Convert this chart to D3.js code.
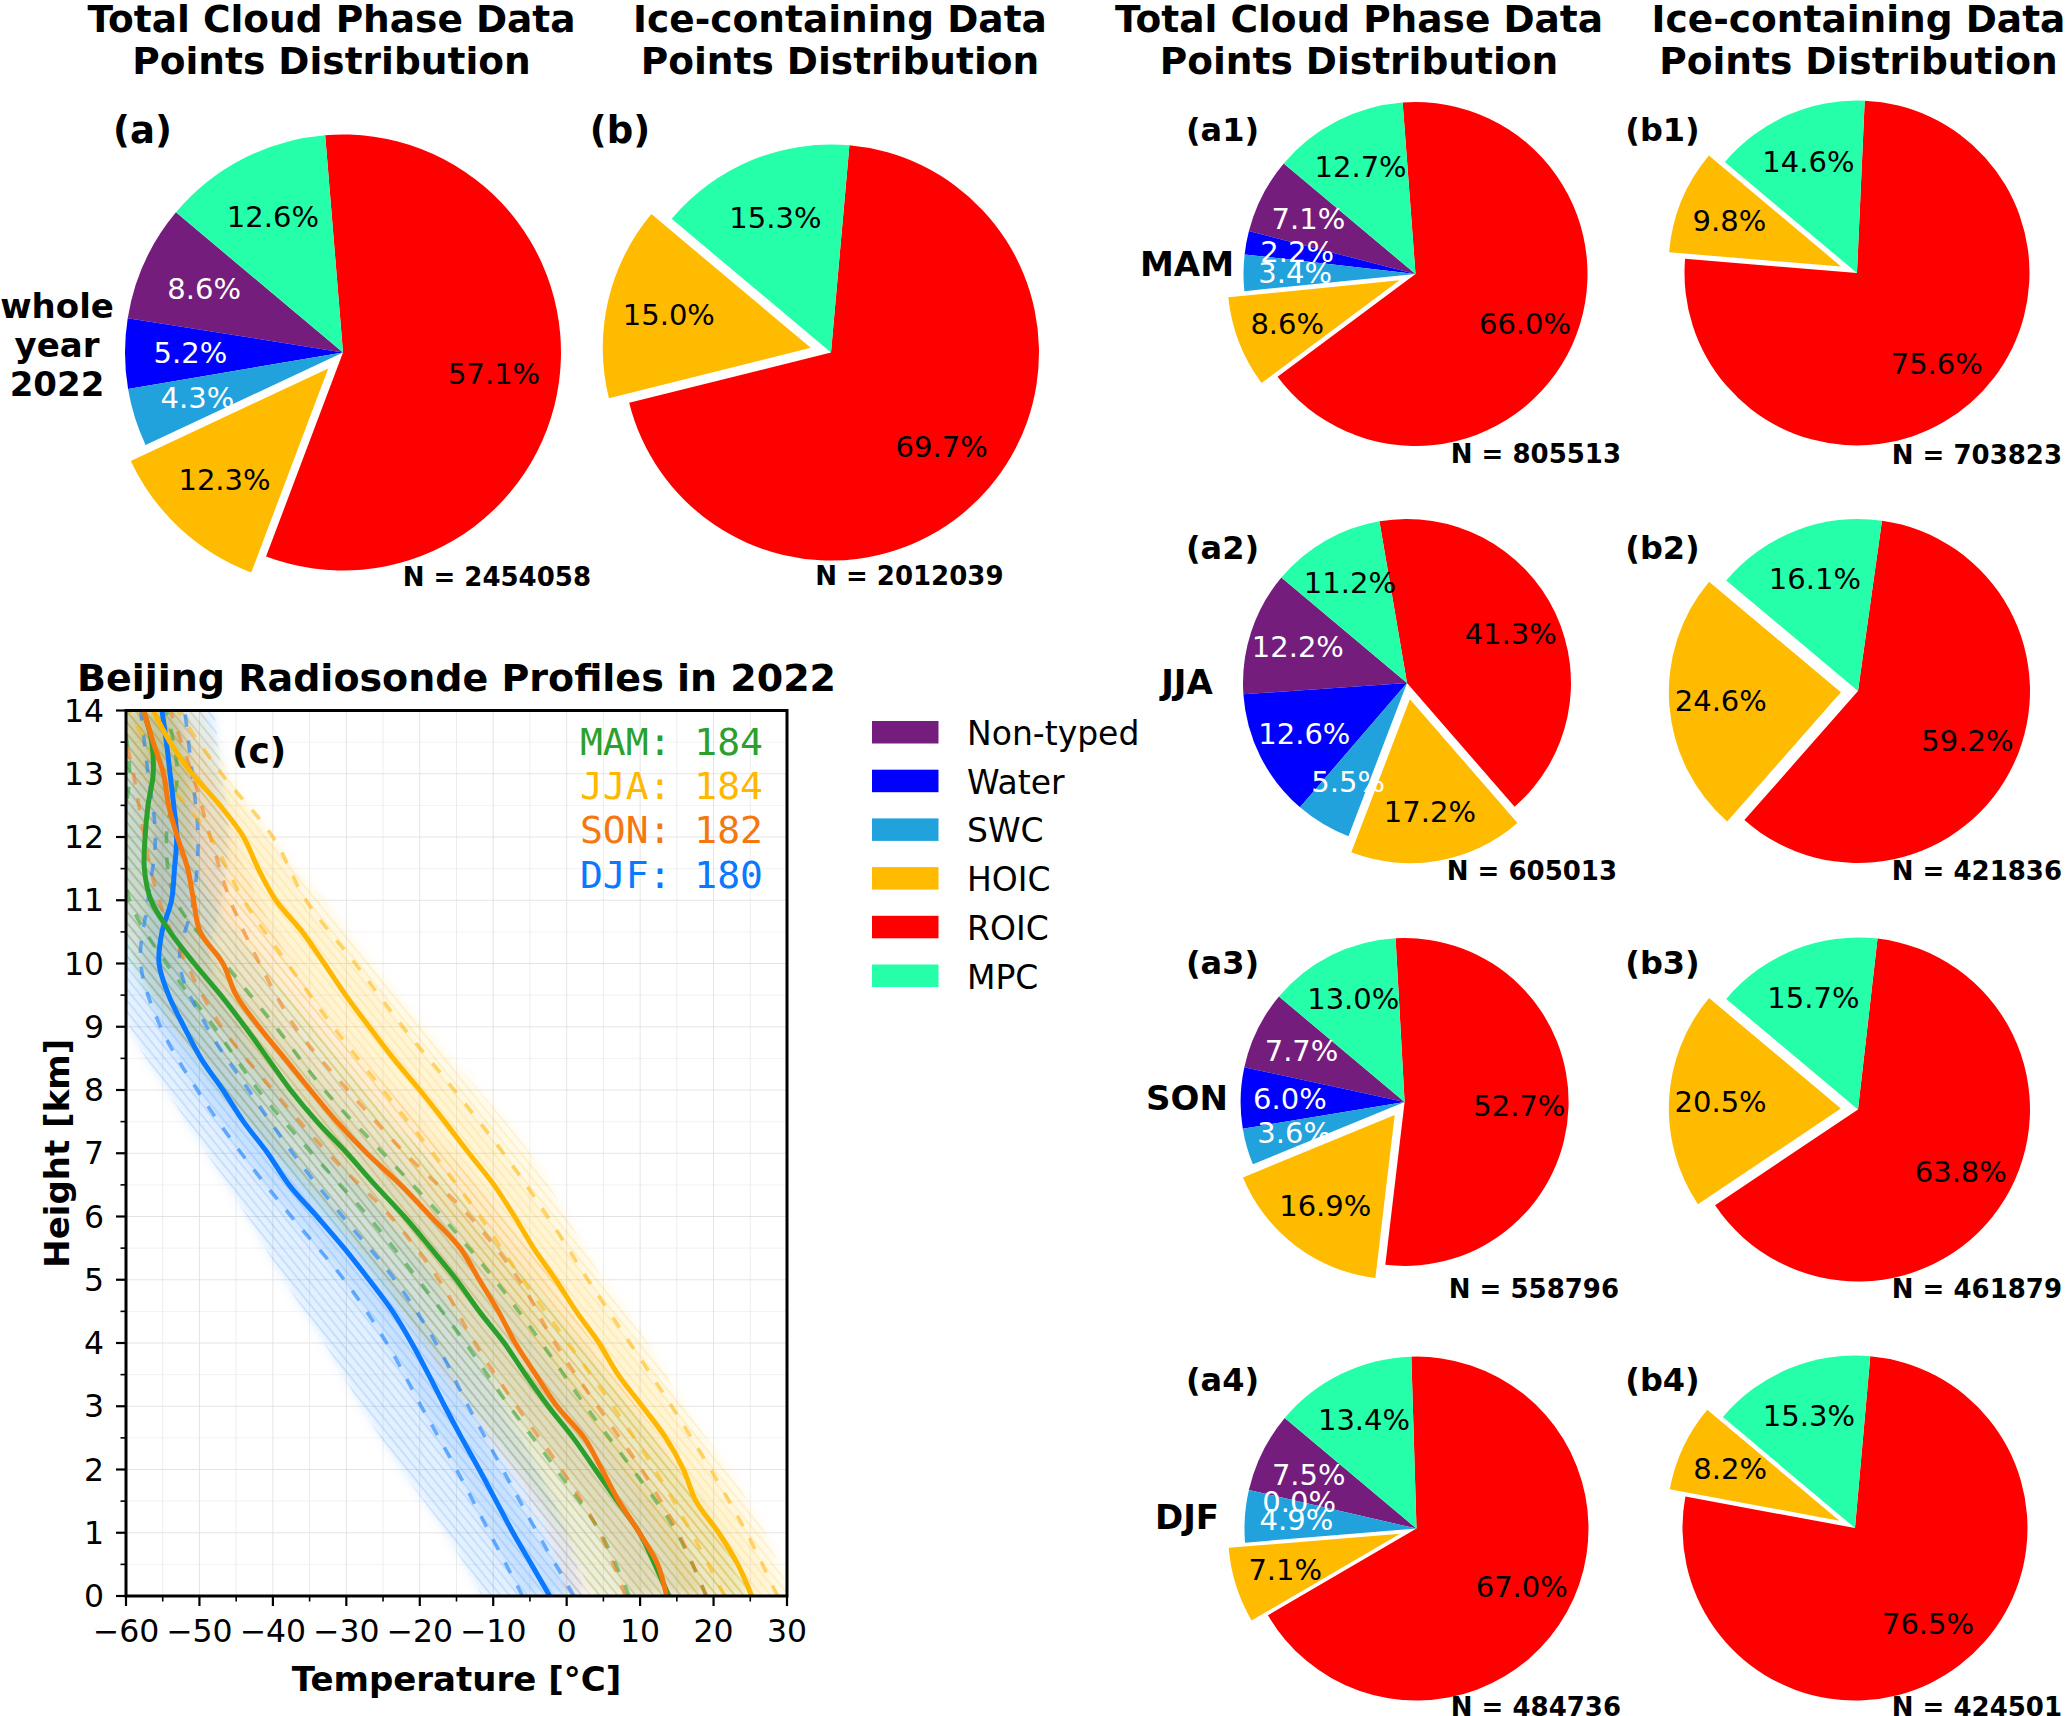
<!DOCTYPE html>
<html><head><meta charset="utf-8">
<script src="https://cdn.jsdelivr.net/npm/d3@7"></script>
<style>body{margin:0;background:#fff}svg{display:block}</style>
</head><body>
<svg id="chart" width="2067" height="1716"></svg>
<script>
// ================= DATA =================
const categories = ['Non-typed','Water','SWC','HOIC','ROIC','MPC'];
const iceCategories = ['HOIC','ROIC','MPC'];

const totalWhole = [8.6, 5.2, 4.3, 12.3, 57.1, 12.6];
const iceWhole   = [15.0, 69.7, 15.3];
const totalMAM = [7.1, 2.2, 3.4, 8.6, 66.0, 12.7];
const iceMAM   = [9.8, 75.6, 14.6];
const totalJJA = [12.2, 12.6, 5.5, 17.2, 41.3, 11.2];
const iceJJA   = [24.6, 59.2, 16.1];
const totalSON = [7.7, 6.0, 3.6, 16.9, 52.7, 13.0];
const iceSON   = [20.5, 63.8, 15.7];
const totalDJF = [7.5, 0.0, 4.9, 7.1, 67.0, 13.4];
const iceDJF   = [8.2, 76.5, 15.3];

const nTotal = [2454058, 805513, 605013, 558796, 484736];
const nIce   = [2012039, 703823, 421836, 461879, 424501];

const seasons = ['MAM','JJA','SON','DJF'];
const soundingCounts = [184, 184, 182, 180];

// heights (km) for mean profiles
const meanHeights = [0,0.5,1,1.5,2,2.5,3,3.5,4,4.5,5,5.5,6,6.5,7,7.5,8,8.5,9,9.5,10,10.5,11,11.5,12,12.5,13,13.5,14];
const meanMAM = [13.9,12.0,9.9,6.9,3.9,0.9,-2.5,-5.6,-8.5,-11.9,-15.0,-18.5,-22.1,-26.1,-29.9,-34.0,-37.6,-40.7,-43.8,-47.1,-50.7,-54.0,-56.6,-57.5,-57.4,-57.0,-56.3,-56.5,-57.6];
const meanJJA = [25.2,23.3,20.7,17.6,15.9,13.5,10.3,7.0,4.4,1.3,-1.5,-4.5,-7.1,-9.9,-13.3,-16.6,-20.0,-23.6,-26.9,-30.1,-33.0,-36.0,-39.6,-42.0,-44.0,-47.2,-51.0,-54.0,-56.3];
const meanSON = [13.6,12.4,9.9,7.1,4.8,2.4,-1.3,-4.2,-7.0,-9.3,-11.9,-14.5,-18.5,-22.6,-27.2,-31.3,-34.9,-38.4,-41.9,-45.0,-46.8,-49.9,-50.8,-51.6,-53.0,-54.2,-54.9,-56.3,-57.6];
const meanDJF = [-2.3,-4.8,-7.3,-9.6,-11.9,-14.3,-16.6,-18.8,-21.1,-23.7,-26.9,-30.3,-34.0,-37.8,-40.7,-44.0,-46.8,-49.8,-52.1,-54.2,-55.5,-55.1,-53.8,-53.4,-53.1,-53.5,-54.0,-54.5,-55.1];

// heights (km) for spread lines
const spreadHeights = [0,1,2,3,4,5,6,7,8,9,10,11,12,13,14];
const lowerMAM = [8.5,4.6,-1.4,-7.8,-13.8,-20.2,-27.0,-34.7,-42.0,-48.0,-54.5,-59.5,-60.5,-59.5,-60.5];
const upperMAM = [19.0,15.0,9.0,2.6,-3.4,-9.8,-17.0,-25.0,-33.0,-39.6,-46.5,-53.2,-54.5,-53.0,-54.5];
const lowerJJA = [21.5,17.0,12.0,6.3,0.2,-6.0,-11.8,-18.2,-25.0,-31.8,-38.0,-44.0,-48.5,-55.0,-59.5];
const upperJJA = [28.7,24.5,19.6,14.3,8.6,2.9,-2.6,-8.6,-15.3,-22.3,-28.8,-35.5,-40.0,-47.0,-53.0];
const lowerSON = [8.0,4.5,-0.7,-6.8,-12.5,-17.4,-24.0,-32.5,-40.0,-47.0,-51.8,-55.5,-57.5,-59.0,-61.0];
const upperSON = [19.0,15.2,10.2,4.2,-1.6,-6.5,-13.2,-22.0,-29.8,-37.0,-41.8,-45.8,-48.5,-51.0,-54.0];
const lowerDJF = [-6.0,-10.5,-15.0,-19.8,-24.5,-30.3,-37.5,-44.3,-50.3,-55.3,-58.0,-57.0,-56.0,-57.0,-58.0];
const upperDJF = [1.0,-4.0,-8.7,-13.4,-17.8,-23.4,-30.5,-37.3,-43.3,-49.0,-52.7,-50.8,-50.2,-51.0,-52.0];

// envelope of the individual soundings
const envLoMAM = [3.5,-0.5,-6.5,-13.0,-19.0,-25.5,-32.5,-40.0,-47.5,-53.5,-59.5,-61,-61,-61,-61];
const envHiMAM = [25.0,21.0,15.0,8.5,2.0,-5.0,-12.0,-19.5,-27.5,-34.5,-41.5,-48.0,-51.0,-51.5,-53.5];
const envLoJJA = [16.0,12.5,7.5,2.0,-4.0,-10.0,-16.0,-22.5,-29.5,-36.0,-42.0,-48.0,-53.0,-58.0,-61];
const envHiJJA = [30.5,27.0,22.0,16.0,11.0,5.0,0.0,-5.0,-12.0,-19.5,-26.5,-33.0,-40.5,-46.0,-49.5];
const envLoSON = [0.0,-2.5,-7.5,-13.5,-19.5,-25.0,-31.5,-39.5,-47.0,-53.5,-58.5,-61,-61,-61,-61];
const envHiSON = [24.0,20.5,15.5,9.5,3.5,-2.0,-8.5,-16.0,-24.0,-31.5,-37.5,-42.0,-45.5,-48.5,-52.0];
const envLoDJF = [-11.5,-16.5,-22.5,-28.0,-33.0,-38.5,-43.5,-49.0,-54.5,-59.5,-61,-61,-61,-61,-61];
const envHiDJF = [2.5,0.0,-4.0,-8.5,-13.0,-18.0,-24.5,-32.0,-38.5,-44.5,-48.5,-47.0,-46.0,-47.0,-48.0];

const xTickValues = [-60,-50,-40,-30,-20,-10,0,10,20,30];
const yTickValues = [0,1,2,3,4,5,6,7,8,9,10,11,12,13,14];

// ================= STYLE / LAYOUT =================
const FONT = "'DejaVu Sans', sans-serif";
const catColors = {'Non-typed':'#741d7c','Water':'#0000ff','SWC':'#21a2dd','HOIC':'#ffbb00','ROIC':'#ff0000','MPC':'#25ffaa'};
const whiteText = new Set(['Non-typed','Water','SWC']);
const seasonColors = {MAM:'#2ca02c', JJA:'#ffb700', SON:'#f5780f', DJF:'#0a78ff'};
const hazeOpacity = {MAM:[0.08,0.09], JJA:[0.09,0.09], SON:[0.07,0.08], DJF:[0.11,0.12]};

const svg = d3.select('#chart');
const defs = svg.append('defs');

// ---------- pies ----------
const pieLayout = [
  {vals: totalWhole, cats: categories,    n: nTotal[0], cx: 343,   cy: 352.5, r: 218,   lab:'(a)',  lx:142.5, ly:143, lsize:37, nx:591,  ny:586},
  {vals: iceWhole,   cats: iceCategories, n: nIce[0],   cx: 831,   cy: 352.5, r: 208,   lab:'(b)',  lx:620,   ly:143, lsize:37, nx:1003.5,ny:585},
  {vals: totalMAM,   cats: categories,    n: nTotal[1], cx: 1415.5,cy: 274,   r: 172,   lab:'(a1)', lx:1222.5,ly:141, lsize:32, nx:1621, ny:463},
  {vals: iceMAM,     cats: iceCategories, n: nIce[1],   cx: 1857,  cy: 273,   r: 172.5, lab:'(b1)', lx:1662.5,ly:141, lsize:32, nx:2062, ny:464},
  {vals: totalJJA,   cats: categories,    n: nTotal[2], cx: 1407,  cy: 683,   r: 164,   lab:'(a2)', lx:1222.5,ly:559, lsize:32, nx:1617, ny:880},
  {vals: iceJJA,     cats: iceCategories, n: nIce[2],   cx: 1858,  cy: 691,   r: 172,   lab:'(b2)', lx:1662.5,ly:559, lsize:32, nx:2062, ny:880},
  {vals: totalSON,   cats: categories,    n: nTotal[3], cx: 1404.6,cy: 1102,  r: 164,   lab:'(a3)', lx:1222.5,ly:974, lsize:32, nx:1619, ny:1298},
  {vals: iceSON,     cats: iceCategories, n: nIce[3],   cx: 1858,  cy: 1109.5,r: 172,   lab:'(b3)', lx:1662.5,ly:974, lsize:32, nx:2062, ny:1298},
  {vals: totalDJF,   cats: categories,    n: nTotal[4], cx: 1416.5,cy: 1528.6,r: 172,   lab:'(a4)', lx:1222.5,ly:1391,lsize:32, nx:1621, ny:1716},
  {vals: iceDJF,     cats: iceCategories, n: nIce[4],   cx: 1855,  cy: 1528,  r: 172.5, lab:'(b4)', lx:1662.5,ly:1391,lsize:32, nx:2062, ny:1716}
];

const START = -50 * Math.PI / 180; // matplotlib startangle 140 deg, counter-clockwise
const pieGen = d3.pie().sort(null).value(d => d.v).startAngle(START).endAngle(START - 2 * Math.PI);

pieLayout.forEach(p => {
  const data = p.cats.map((c, i) => ({cat: c, v: p.vals[i]}));
  const arcs = pieGen(data);
  const g = svg.append('g').attr('transform', `translate(${p.cx},${p.cy})`);
  const arc = d3.arc().innerRadius(0).outerRadius(p.r);
  const labArc = d3.arc().innerRadius(0.7 * p.r).outerRadius(0.7 * p.r);
  const shift = a => {
    const mid = (a.startAngle + a.endAngle) / 2;
    const off = a.data.cat === 'HOIC' ? 0.1 * p.r : 0;
    return [Math.sin(mid) * off, -Math.cos(mid) * off];
  };
  arcs.forEach(a => {
    const [dx, dy] = shift(a);
    if (a.data.v > 0) {
      g.append('path').attr('d', arc(a)).attr('fill', catColors[a.data.cat])
        .attr('transform', `translate(${dx},${dy})`);
    }
  });
  arcs.forEach(a => {
    const [dx, dy] = shift(a);
    const c = labArc.centroid(a);
    g.append('text').attr('x', c[0] + dx).attr('y', c[1] + dy)
      .attr('text-anchor', 'middle').attr('dominant-baseline', 'central')
      .attr('font-family', FONT).attr('font-size', 29)
      .attr('fill', whiteText.has(a.data.cat) ? '#fff' : '#000')
      .text(a.data.v.toFixed(1) + '%');
  });
  svg.append('text').attr('x', p.lx).attr('y', p.ly).attr('text-anchor', 'middle')
    .attr('font-family', FONT).attr('font-weight', 'bold').attr('font-size', p.lsize).text(p.lab);
  svg.append('text').attr('x', p.nx).attr('y', p.ny).attr('text-anchor', 'end')
    .attr('font-family', FONT).attr('font-weight', 'bold').attr('font-size', 26).text('N = ' + p.n);
});

// column titles
const titleLayout = [331.5, 840, 1359, 1858.5];
const titleTexts = [
  ['Total Cloud Phase Data', 'Points Distribution'],
  ['Ice-containing Data', 'Points Distribution'],
  ['Total Cloud Phase Data', 'Points Distribution'],
  ['Ice-containing Data', 'Points Distribution']
];
titleTexts.forEach((t, i) => {
  t.forEach((ln, j) => {
    svg.append('text').attr('x', titleLayout[i]).attr('y', 31.5 + j * 42.5)
      .attr('text-anchor', 'middle').attr('font-family', FONT).attr('font-weight', 'bold')
      .attr('font-size', 37.5).text(ln);
  });
});

// row labels
[['whole', 318], ['year', 357], ['2022', 396]].forEach(([t, yy]) => {
  svg.append('text').attr('x', 57).attr('y', yy).attr('text-anchor', 'middle')
    .attr('font-family', FONT).attr('font-weight', 'bold').attr('font-size', 34).text(t);
});
const seasonRowY = [276, 694, 1110, 1529];
seasons.forEach((s, i) => {
  svg.append('text').attr('x', 1187).attr('y', seasonRowY[i]).attr('text-anchor', 'middle')
    .attr('font-family', FONT).attr('font-weight', 'bold').attr('font-size', 34).text(s);
});

// ---------- profile panel ----------
const PL = 126, PR = 787, PT = 710.5, PB = 1596;
const x = d3.scaleLinear().domain([-60, 30]).range([PL, PR]);
const y = d3.scaleLinear().domain([0, 14]).range([PB, PT]);

defs.append('clipPath').attr('id', 'plotclip')
  .append('rect').attr('x', PL).attr('y', PT).attr('width', PR - PL).attr('height', PB - PT);
defs.append('filter').attr('id', 'soft').attr('x', '-10%').attr('y', '-10%').attr('width', '120%').attr('height', '120%')
  .append('feGaussianBlur').attr('stdDeviation', 5);
// thin-line texture imitating the many individual soundings
seasons.forEach(s => {
  const pat = defs.append('pattern').attr('id', 'tex' + s).attr('patternUnits', 'userSpaceOnUse')
    .attr('width', 7).attr('height', 40).attr('patternTransform', 'rotate(-39)');
  pat.append('line').attr('x1', 1).attr('x2', 1).attr('y1', 0).attr('y2', 40)
    .attr('stroke', seasonColors[s]).attr('stroke-width', 1).attr('stroke-opacity', 0.28);
});

const grid = svg.append('g');
x.ticks(18).forEach(v => {
  grid.append('line').attr('x1', x(v)).attr('x2', x(v)).attr('y1', PT).attr('y2', PB)
    .attr('stroke', '#dcdcdc').attr('stroke-width', 1).attr('opacity', v % 10 === 0 ? 0.75 : 0.5);
});
y.ticks(28).forEach(v => {
  grid.append('line').attr('y1', y(v)).attr('y2', y(v)).attr('x1', PL).attr('x2', PR)
    .attr('stroke', '#dcdcdc').attr('stroke-width', 1).attr('opacity', Number.isInteger(v) ? 0.75 : 0.35);
});

const plot = svg.append('g').attr('clip-path', 'url(#plotclip)');
const means = {MAM: meanMAM, JJA: meanJJA, SON: meanSON, DJF: meanDJF};
const lowers = {MAM: lowerMAM, JJA: lowerJJA, SON: lowerSON, DJF: lowerDJF};
const uppers = {MAM: upperMAM, JJA: upperJJA, SON: upperSON, DJF: upperDJF};
const envLo = {MAM: envLoMAM, JJA: envLoJJA, SON: envLoSON, DJF: envLoDJF};
const envHi = {MAM: envHiMAM, JJA: envHiJJA, SON: envHiSON, DJF: envHiDJF};

const areaGen = d3.area().curve(d3.curveCatmullRom)
  .y(d => y(d.h)).x0(d => x(d.lo)).x1(d => x(d.hi));
const lineGen = d3.line().curve(d3.curveCatmullRom).x(d => x(d.t)).y(d => y(d.h));

const drawOrder = ['DJF', 'MAM', 'SON', 'JJA'];
const haze = plot.append('g');
drawOrder.forEach(s => {
  const env = spreadHeights.map((h, i) => ({h, lo: envLo[s][i], hi: envHi[s][i]}));
  const inner = spreadHeights.map((h, i) => ({h, lo: lowers[s][i], hi: uppers[s][i]}));
  const soft = haze.append('g').attr('filter', 'url(#soft)');
  soft.append('path').attr('d', areaGen(env)).attr('fill', seasonColors[s]).attr('opacity', hazeOpacity[s][0]);
  soft.append('path').attr('d', areaGen(inner)).attr('fill', seasonColors[s]).attr('opacity', hazeOpacity[s][1]);
  haze.append('path').attr('d', areaGen(env)).attr('fill', `url(#tex${s})`);
});
drawOrder.forEach(s => {
  [lowers[s], uppers[s]].forEach(arr => {
    plot.append('path').attr('d', lineGen(spreadHeights.map((h, i) => ({h, t: arr[i]}))))
      .attr('fill', 'none').attr('stroke', seasonColors[s]).attr('stroke-width', 3.6)
      .attr('stroke-dasharray', '12,14').attr('opacity', 0.55);
  });
});
drawOrder.forEach(s => {
  plot.append('path').attr('d', lineGen(meanHeights.map((h, i) => ({h, t: means[s][i]}))))
    .attr('fill', 'none').attr('stroke', seasonColors[s]).attr('stroke-width', 5)
    .attr('stroke-linejoin', 'round');
});

svg.append('rect').attr('x', PL).attr('y', PT).attr('width', PR - PL).attr('height', PB - PT)
  .attr('fill', 'none').attr('stroke', '#000').attr('stroke-width', 3);

const xAxisG = svg.append('g');
x.ticks(18).forEach(v => {
  const major = v % 10 === 0;
  xAxisG.append('line').attr('x1', x(v)).attr('x2', x(v)).attr('y1', PB).attr('y2', PB + (major ? 10 : 5.5))
    .attr('stroke', '#000').attr('stroke-width', major ? 2.2 : 1.6);
});
xTickValues.forEach(v => {
  xAxisG.append('text').attr('x', x(v)).attr('y', 1642).attr('text-anchor', 'middle')
    .attr('font-family', FONT).attr('font-size', 31.5).text(v < 0 ? '\u2212' + Math.abs(v) : String(v));
});
const yAxisG = svg.append('g');
y.ticks(28).forEach(v => {
  const major = Number.isInteger(v);
  yAxisG.append('line').attr('y1', y(v)).attr('y2', y(v)).attr('x1', PL).attr('x2', PL - (major ? 10 : 5.5))
    .attr('stroke', '#000').attr('stroke-width', major ? 2.2 : 1.6);
});
yTickValues.forEach(v => {
  yAxisG.append('text').attr('x', 104).attr('y', y(v)).attr('text-anchor', 'end')
    .attr('dominant-baseline', 'central').attr('font-family', FONT).attr('font-size', 31.5).text(v);
});

svg.append('text').attr('x', (PL + PR) / 2).attr('y', 1691).attr('text-anchor', 'middle')
  .attr('font-family', FONT).attr('font-weight', 'bold').attr('font-size', 34).text('Temperature [°C]');
svg.append('text').attr('transform', `translate(57,${(PT + PB) / 2}) rotate(-90)`)
  .attr('text-anchor', 'middle').attr('dominant-baseline', 'central')
  .attr('font-family', FONT).attr('font-weight', 'bold').attr('font-size', 34).text('Height [km]');
svg.append('text').attr('x', (PL + PR) / 2).attr('y', 691).attr('text-anchor', 'middle')
  .attr('font-family', FONT).attr('font-weight', 'bold').attr('font-size', 38).text('Beijing Radiosonde Profiles in 2022');
svg.append('text').attr('x', 232).attr('y', 763).attr('font-family', FONT).attr('font-weight', 'bold')
  .attr('font-size', 36).text('(c)');

seasons.forEach((s, i) => {
  svg.append('text').attr('x', 763).attr('y', 755 + i * 44.2).attr('text-anchor', 'end')
    .attr('font-family', "'DejaVu Sans Mono', monospace").attr('font-size', 38)
    .attr('fill', seasonColors[s]).style('white-space', 'pre').text(s + ': ' + soundingCounts[i]);
});

const legend = svg.append('g');
categories.forEach((c, i) => {
  legend.append('rect').attr('x', 872).attr('y', 721 + i * 48.7).attr('width', 66.5).attr('height', 22.5)
    .attr('fill', catColors[c]);
  legend.append('text').attr('x', 967).attr('y', 745 + i * 48.7).attr('font-family', FONT)
    .attr('font-size', 33).text(c);
});
</script>
</body></html>
